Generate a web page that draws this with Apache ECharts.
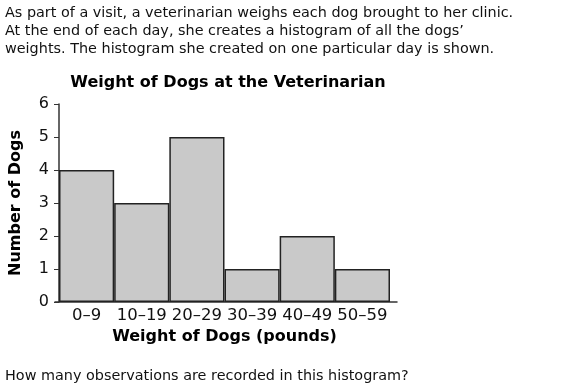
<!DOCTYPE html>
<html>
<head>
<meta charset="utf-8">
<script src="https://cdn.jsdelivr.net/npm/echarts@6/dist/echarts.min.js"></script>
<style>
html,body{margin:0;padding:0;background:#fff;}
#c{width:587px;height:389px;}
</style>
</head>
<body>
<div id="c"></div>
<script>
var categories = ['0\u20139', '10\u201319', '20\u201329', '30\u201339', '40\u201349', '50\u201359'];
var counts = [4, 3, 5, 1, 2, 1];
var yTicks = [0, 1, 2, 3, 4, 5, 6];

var FONT = 'DejaVu Sans';
var chart = echarts.init(document.getElementById('c'), null, {renderer: 'canvas'});
chart.setOption({
  backgroundColor: '#fff',
  animation: false,
  textStyle: {fontFamily: FONT},
  title: [
    {
      text: 'As part of a visit, a veterinarian weighs each dog brought to her clinic.\nAt the end of each day, she creates a histogram of all the dogs\u2019\nweights. The histogram she created on one particular day is shown.',
      left: 5, top: 4.5, padding: 0,
      textStyle: {fontFamily: FONT, fontSize: 14.4, fontWeight: 'normal', color: '#111', lineHeight: 18}
    },
    {
      text: 'Weight of Dogs at the Veterinarian',
      left: 228, top: 74.5, textAlign: 'center', padding: 0,
      textStyle: {fontFamily: FONT, fontSize: 16, fontWeight: 'bold', color: '#000'}
    },
    {
      text: 'How many observations are recorded in this histogram?',
      left: 5, top: 369, padding: 0,
      textStyle: {fontFamily: FONT, fontSize: 14.4, fontWeight: 'normal', color: '#111'}
    }
  ],
  grid: [
    {left: 59, right: 197, top: 104, bottom: 87, containLabel: false},
    {left: 55, right: 190, top: 104, bottom: 87, containLabel: false}
  ],
  xAxis: [
    {
      type: 'category', gridIndex: 0, data: categories,
      boundaryGap: true,
      axisLine: {show: false},
      axisTick: {show: false},
      axisLabel: {fontFamily: FONT, fontSize: 16.5, color: '#111', margin: 5, interval: 0},
      name: 'Weight of Dogs (pounds)', nameLocation: 'middle', nameGap: 25,
      nameTextStyle: {fontFamily: FONT, fontSize: 16, fontWeight: 'bold', color: '#000'}
    },
    {
      type: 'value', gridIndex: 1, min: 0, max: 1,
      axisLine: {show: true, lineStyle: {color: '#333', width: 1.5}},
      axisTick: {show: false}, axisLabel: {show: false}, splitLine: {show: false}
    }
  ],
  yAxis: [
    {
      type: 'value', gridIndex: 0, min: yTicks[0], max: yTicks[yTicks.length - 1], interval: 1,
      axisLine: {show: true, lineStyle: {color: '#333', width: 1.5}},
      axisTick: {show: true, length: 5, lineStyle: {color: '#333', width: 1}},
      axisLabel: {fontFamily: FONT, fontSize: 16, color: '#111', margin: 10},
      splitLine: {show: false},
      name: 'Number of Dogs', nameLocation: 'middle', nameGap: 35,
      nameTextStyle: {fontFamily: FONT, fontSize: 16, fontWeight: 'bold', color: '#000'}
    },
    {
      type: 'value', gridIndex: 1, show: false, min: 0, max: 1
    }
  ],
  series: [{
    type: 'bar', xAxisIndex: 0, yAxisIndex: 0,
    data: counts,
    barCategoryGap: 0,
    itemStyle: {color: '#c9c9c9', borderColor: '#222', borderWidth: 1.5}
  }]
});
</script>
</body>
</html>
